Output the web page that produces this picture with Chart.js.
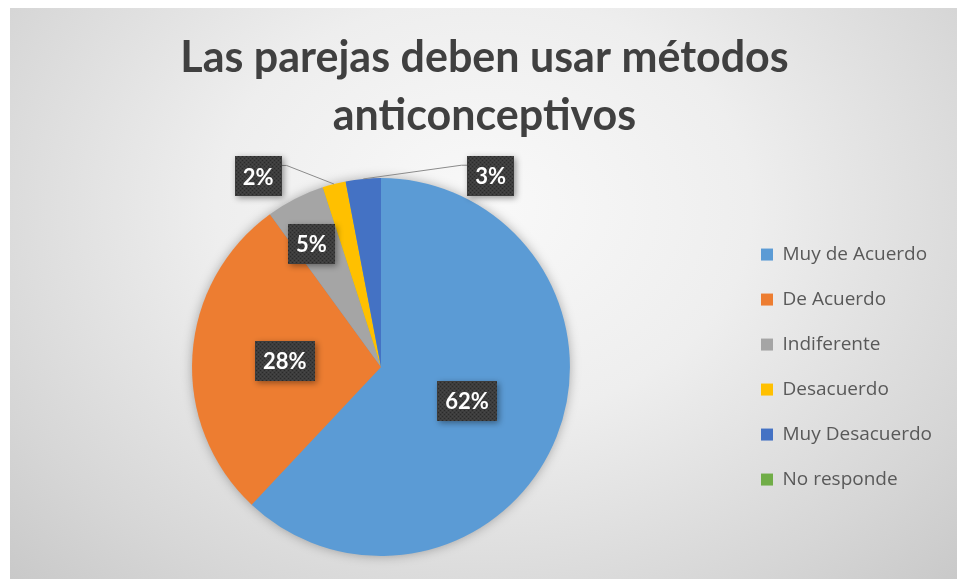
<!DOCTYPE html>
<html>
<head>
<meta charset="utf-8">
<script src="https://cdn.jsdelivr.net/npm/chart.js@4.4.0/dist/chart.umd.min.js"></script>
<style>
  html, body { margin: 0; padding: 0; background: #fff; }
  #box {
    position: absolute; left: 10px; top: 8px; width: 947px; height: 571px;
    background: radial-gradient(ellipse farthest-corner at 50% 35%, #f9f9f9 0%, #eeeeee 40%, #d6d6d6 80%, #c9c9c9 100%);
  }
</style>
</head>
<body>
<div id="box"><canvas id="myChart"></canvas></div>
<script>
// Data
var categories = ['Muy de Acuerdo', 'De Acuerdo', 'Indiferente', 'Desacuerdo', 'Muy Desacuerdo', 'No responde'];
var percentages = [62, 28, 5, 2, 3, 0];
var titleLines = ['Las parejas deben usar métodos', 'anticonceptivos'];
var sliceColors = ['#5b9bd5', '#ed7d31', '#a5a5a5', '#ffc000', '#4472c4', '#70ad47'];

// where each data label sits: fraction of the radius, turn (deg) from the slice middle
var labelPlacement = [
  { r: 0.49, turn: 0 },
  { r: 0.51, turn: 0 },
  { r: 0.75, turn: -2.4 },
  { r: 1.20, turn: -18.4, leader: true },
  { r: 1.165, turn: 35.3, leader: true },
  null
];

function makePattern(ctx) {
  var c = document.createElement('canvas');
  c.width = 4; c.height = 4;
  var p = c.getContext('2d');
  p.fillStyle = '#3d3d3d'; p.fillRect(0, 0, 4, 4);
  p.fillStyle = '#2a2a2a'; p.fillRect(0, 0, 1, 1); p.fillRect(2, 2, 1, 1);
  p.fillStyle = '#474747'; p.fillRect(2, 0, 1, 1); p.fillRect(0, 2, 1, 1);
  return ctx.createPattern(c, 'repeat');
}

var pieDecor = {
  id: 'pieDecor',
  beforeDatasetsDraw: function (chart) {
    // soft shadow under the whole pie
    var arc = chart.getDatasetMeta(0).data[0];
    var ctx = chart.ctx;
    ctx.save();
    ctx.shadowColor = 'rgba(0,0,0,0.35)';
    ctx.shadowBlur = 12;
    ctx.fillStyle = sliceColors[0];
    ctx.beginPath();
    ctx.arc(arc.x, arc.y, arc.outerRadius - 1, 0, Math.PI * 2);
    ctx.fill();
    ctx.restore();
  },
  afterDatasetsDraw: function (chart) {
    var ctx = chart.ctx;
    var meta = chart.getDatasetMeta(0);
    var pattern = makePattern(ctx);
    ctx.save();
    ctx.font = 'bold 22px Lato';
    meta.data.forEach(function (el, i) {
      var v = percentages[i];
      var pl = labelPlacement[i];
      if (!v || !pl) return;
      var R = el.outerRadius;
      var mid = (el.startAngle + el.endAngle) / 2;
      var a = mid + pl.turn * Math.PI / 180;
      var cx = el.x + Math.cos(a) * pl.r * R;
      var cy = el.y + Math.sin(a) * pl.r * R;
      var text = v + '%';
      var w = ctx.measureText(text).width + 16;
      var h = 40;

      if (pl.leader) {
        var px = el.x + Math.cos(mid) * R;
        var py = el.y + Math.sin(mid) * R;
        var toRight = px > cx;
        var edgeX = toRight ? cx + w / 2 : cx - w / 2;
        var elbowX = toRight ? edgeX + 5 : edgeX - 6;
        var ey = cy - h / 2 + 9;
        ctx.strokeStyle = '#8a8a8a';
        ctx.lineWidth = 1;
        ctx.beginPath();
        ctx.moveTo(px, py);
        ctx.lineTo(elbowX, ey);
        ctx.lineTo(edgeX, ey);
        ctx.stroke();
      }

      ctx.save();
      ctx.shadowColor = 'rgba(0,0,0,0.4)';
      ctx.shadowBlur = 6;
      ctx.shadowOffsetX = 2;
      ctx.shadowOffsetY = 2;
      ctx.fillStyle = pattern;
      ctx.fillRect(Math.round(cx - w / 2), Math.round(cy - h / 2), Math.round(w), h);
      ctx.restore();

      ctx.fillStyle = '#ffffff';
      ctx.textAlign = 'center';
      ctx.textBaseline = 'middle';
      ctx.fillText(text, cx, cy + 1);
    });
    ctx.restore();
  }
};

var ctx = document.getElementById('myChart');
var myChart = new Chart(ctx, {
  type: 'pie',
  data: {
    labels: categories,
    datasets: [{
      data: percentages,
      backgroundColor: sliceColors,
      borderWidth: 0
    }]
  },
  options: {
    responsive: true,
    maintainAspectRatio: false,
    animation: false,
    layout: { padding: { left: 17, right: 15, top: 0, bottom: 23 } },
    plugins: {
      title: {
        display: true,
        text: titleLines,
        color: '#404040',
        font: { family: 'Lato', size: 43, weight: 'bold', lineHeight: 1.35 },
        padding: { top: 21, bottom: 33 }
      },
      legend: {
        position: 'right',
        fullSize: false,
        labels: {
          boxWidth: 12,
          boxHeight: 12,
          padding: 26,
          color: '#595959',
          font: { family: 'Open Sans', size: 19 }
        }
      },
      tooltip: { enabled: false }
    }
  },
  plugins: [pieDecor]
});
</script>
</body>
</html>
